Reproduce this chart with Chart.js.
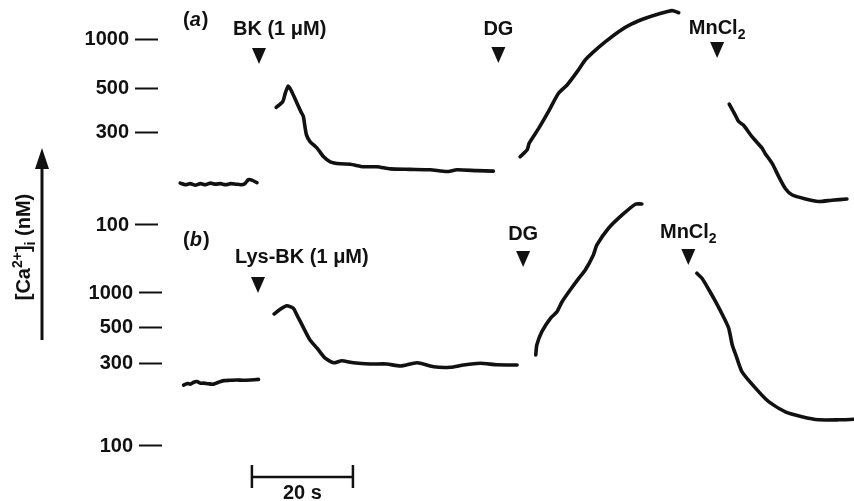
<!DOCTYPE html>
<html>
<head>
<meta charset="utf-8">
<script src="https://cdn.jsdelivr.net/npm/chart.js@4.4.1/dist/chart.umd.min.js"></script>
<style>
  html, body { margin: 0; padding: 0; background: #fff; }
  #wrap { width: 854px; height: 501px; }
</style>
</head>
<body>
<div id="wrap"><canvas id="chart" width="854" height="501"></canvas></div>
<script>
// [Ca2+]i (nM) against time (s); null = pen lifted
const yTicks = [100, 300, 500, 1000];

const timeA = [0, 1, 2, 3, 4, 5, 6, 7, 8, 9, 10, 11, 12, 12.8, 13.5, 14.2, 15.2,
  17,
  19.0, 20.3, 20.8, 21.4, 22.1, 23.0, 23.9, 24.4, 24.6, 25.0, 25.7, 27.1, 28.4, 29.7, 31.7,
  33.7, 36.3, 39.0, 41.6, 45.5, 49.5, 52.8, 54.8, 58.8, 62.0,
  65,
  67.3, 68.7, 69.1, 71.0, 72.9, 74.9, 76.6, 78.6, 80.2, 81.5, 84.2, 86.8, 89.4, 92.1, 94.7, 97.4, 98.7,
  104,
  108.7, 109.9, 110.6, 111.5, 113.2, 115.2, 115.8, 117.2, 118.5, 119.8, 121.1, 123.8, 126.4, 129.0, 132.0];
const caA = [164, 161, 163, 160, 163, 161, 164, 162, 163, 161, 163, 162, 161, 163, 171, 170, 165,
  null,
  402, 430, 475, 522, 484, 430, 382, 360, 333, 290, 268, 248, 224, 211, 206,
  205, 199, 199, 194, 193, 192, 188, 192, 190, 189,
  null,
  224, 243, 263, 314, 382, 475, 529, 639, 754, 828, 976, 1125, 1254, 1359, 1444, 1514, 1471,
  null,
  418, 367, 339, 326, 284, 248, 233, 207, 177, 154, 143, 136, 132, 134, 136];

const timeB = [0.7, 1.4, 2.0, 2.7, 3.3, 4.0, 4.6, 5.6, 6.6, 7.6, 8.6, 9.9, 11.2, 12.5, 13.9, 15.5,
  17,
  18.6, 19.8, 21.1, 22.4, 23.1, 23.8, 24.8, 25.7, 27.1, 28.7, 30.4, 32.0, 34.3, 37.6, 40.9,
  43.6, 46.9, 50.2, 53.5, 56.1, 59.4, 62.7, 66.7,
  68.5,
  70.4, 70.6, 71.6, 73.3, 74.6, 75.6, 77.2, 78.9, 80.2, 81.8, 82.5, 84.8, 87.5, 90.1, 91.4,
  96,
  102.3, 103.3, 104.7, 106.0, 107.7, 108.6, 109.3, 110.0, 111.2, 113.9, 116.5, 119.8, 123.1, 126.4, 130.4, 133.3];
const caB = [226, 231, 229, 235, 237, 232, 232, 230, 229, 235, 240, 241, 242, 241, 242, 244,
  null,
  652, 717, 772, 732, 639, 557, 469, 418, 373, 325, 305, 314, 305, 300, 300,
  292, 305, 289, 287, 296, 303, 297, 296,
  null,
  340, 390, 469, 597, 683, 837, 1063, 1349, 1598, 2170, 2660, 3739, 4903, 6100, 6138,
  null,
  1494, 1349, 1063, 837, 597, 491, 390, 340, 271, 217, 181, 158, 148, 142, 142, 143];

// additions (arrowheads) and their labels
const eventLabelsA = ['BK (1 \u03bcM)', 'DG', 'MnCl_2'];
const eventTimesA = [15.6, 63.0, 106.3];
const eventLabelsB = ['Lys-BK (1 \u03bcM)', 'DG', 'MnCl_2'];
const eventTimesB = [15.4, 67.9, 100.6];

const scaleBarSeconds = 20;

const INK = '#111';
const FONT = "'Liberation Sans', Arial, sans-serif";

// y axis calibrated like the figure: log-interpolated between the labelled ticks
class CalibratedScale extends Chart.LinearScale {
  static id = 'calibrated';
  static defaults = {};
  determineDataLimits() {
    this.min = this.options.min;
    this.max = this.options.max;
  }
  buildTicks() {
    return this.options.tickValues.map(v => ({ value: v }));
  }
  // both panels share the same label column, so do not clip labels to the axis box
  _computeLabelArea() {
    return undefined;
  }
  toUnit(v) {
    const vals = this.options.tickValues, units = this.options.calib;
    if (!(v > 0)) return this.min;
    const lv = Math.log10(v);
    let i = 1;
    while (i < vals.length - 1 && lv > Math.log10(vals[i])) i++;
    const l0 = Math.log10(vals[i - 1]), l1 = Math.log10(vals[i]);
    return units[i - 1] + (lv - l0) * (units[i] - units[i - 1]) / (l1 - l0);
  }
  getPixelForValue(v) {
    if (v === null || v === undefined) return NaN;
    return super.getPixelForValue(this.toUnit(v));
  }
}
Chart.register(CalibratedScale);

function richParts(str) {
  const parts = [];
  const re = /([_^])\{([^}]*)\}|([_^])(.)/g;
  let last = 0, m;
  while ((m = re.exec(str))) {
    if (m.index > last) parts.push({ t: str.slice(last, m.index), shift: 0 });
    const kind = m[1] || m[3];
    parts.push({ t: m[2] !== undefined ? m[2] : m[4], shift: kind === '_' ? 1 : -1 });
    last = re.lastIndex;
  }
  if (last < str.length) parts.push({ t: str.slice(last), shift: 0 });
  return parts;
}

function drawRich(ctx, str, x, y, size, align) {
  const parts = richParts(str);
  const fontFor = p => `bold ${p.shift ? Math.round(size * 0.68) : size}px ${FONT}`;
  let w = 0;
  parts.forEach(p => { ctx.font = fontFor(p); p.w = ctx.measureText(p.t).width; w += p.w; });
  let cx = align === 'center' ? x - w / 2 : align === 'right' ? x - w : x;
  ctx.textAlign = 'left';
  ctx.textBaseline = 'alphabetic';
  parts.forEach(p => {
    ctx.font = fontFor(p);
    const dy = p.shift > 0 ? size * 0.25 : p.shift < 0 ? -size * 0.42 : 0;
    ctx.fillText(p.t, cx, y + dy);
    cx += p.w;
  });
}

function drawLetter(ctx, letter, x, y, size) {
  ctx.textAlign = 'left';
  ctx.textBaseline = 'alphabetic';
  ctx.font = `bold ${size}px ${FONT}`;
  ctx.fillText('(', x, y);
  let cx = x + ctx.measureText('(').width;
  ctx.font = `italic bold ${size}px ${FONT}`;
  ctx.fillText(letter, cx, y);
  cx += ctx.measureText(letter).width + 1;
  ctx.font = `bold ${size}px ${FONT}`;
  ctx.fillText(')', cx, y);
}

const annotations = {
  id: 'annotations',
  afterDraw(chart, args, o) {
    const { ctx, scales: { x } } = chart;
    ctx.save();
    ctx.fillStyle = INK;
    ctx.strokeStyle = INK;

    o.panels.forEach(p => {
      drawLetter(ctx, p.letter, o.letterX, p.letterY, o.fontSize);
      p.times.forEach((t, i) => {
        const px = x.getPixelForValue(t);
        if (i === 0) drawRich(ctx, p.labels[i], px - p.leadOffset, p.labelY[i], o.fontSize, 'left');
        else drawRich(ctx, p.labels[i], px, p.labelY[i], o.fontSize, 'center');
        const top = p.arrowTop[i];
        ctx.beginPath();
        ctx.moveTo(px - 7, top);
        ctx.lineTo(px + 7, top);
        ctx.lineTo(px, top + 16);
        ctx.closePath();
        ctx.fill();
      });
    });

    // 20 s scale bar
    const b = o.bar;
    const x0 = x.getPixelForValue(b.start), x1 = x.getPixelForValue(b.start + scaleBarSeconds);
    ctx.lineWidth = 2.5;
    ctx.beginPath();
    ctx.moveTo(x0, b.y); ctx.lineTo(x1, b.y);
    ctx.moveTo(x0, b.y - 12); ctx.lineTo(x0, b.y + 11);
    ctx.moveTo(x1, b.y - 12); ctx.lineTo(x1, b.y + 11);
    ctx.stroke();
    drawRich(ctx, scaleBarSeconds + ' s', (x0 + x1) / 2, b.labelY, o.fontSize, 'center');

    // y axis title with arrow
    const yt = o.yTitle;
    ctx.lineWidth = 3;
    ctx.beginPath();
    ctx.moveTo(yt.arrowX, yt.arrowBottom);
    ctx.lineTo(yt.arrowX, yt.arrowTip + 18);
    ctx.stroke();
    ctx.beginPath();
    ctx.moveTo(yt.arrowX - 7, yt.arrowTip + 21);
    ctx.lineTo(yt.arrowX + 7, yt.arrowTip + 21);
    ctx.lineTo(yt.arrowX, yt.arrowTip);
    ctx.closePath();
    ctx.fill();
    ctx.save();
    ctx.translate(yt.x, yt.y);
    ctx.rotate(-Math.PI / 2);
    drawRich(ctx, '[Ca^{2+}]_i (nM)', 0, 0, o.fontSize, 'center');
    ctx.restore();

    ctx.restore();
  }
};

function points(times, values) {
  return times.map((t, i) => ({ x: t, y: values[i] }));
}

function yAxis(calib, weight, width) {
  return {
    type: 'calibrated',
    position: 'left',
    weight: weight,
    min: 0,
    max: 100,
    tickValues: yTicks,
    calib: calib,
    afterFit: s => { s.width = width; s.paddingTop = 0; s.paddingBottom = 0; },
    border: { display: false },
    grid: { drawOnChartArea: false, drawTicks: true, tickLength: 23, tickWidth: 2, tickColor: INK },
    ticks: {
      autoSkip: false,
      padding: 6,
      color: INK,
      font: { family: FONT, size: 20, weight: 'bold' },
      callback: v => String(v)
    }
  };
}

const lineStyle = {
  borderColor: INK,
  borderWidth: 3.6,
  pointRadius: 0,
  tension: 0.2,
  spanGaps: false,
  borderCapStyle: 'round',
  borderJoinStyle: 'round',
  fill: false
};

new Chart(document.getElementById('chart'), {
  type: 'line',
  data: {
    datasets: [
      Object.assign({ label: '(a)', data: points(timeA, caA), yAxisID: 'ya' }, lineStyle),
      Object.assign({ label: '(b)', data: points(timeB, caB), yAxisID: 'yb' }, lineStyle)
    ]
  },
  options: {
    responsive: false,
    animation: false,
    events: [],
    layout: { padding: 0, autoPadding: false },
    scales: {
      x: { type: 'linear', display: false, min: -3.6, max: 133.4 },
      ya: yAxis([55.09, 73.65, 82.24, 92.02], 1, 158),
      yb: yAxis([10.98, 27.35, 34.73, 41.52], 0, 4)
    },
    plugins: {
      legend: { display: false },
      tooltip: { enabled: false },
      annotations: {
        fontSize: 20,
        letterX: 183,
        panels: [
          { letter: 'a', letterY: 26, labels: eventLabelsA, times: eventTimesA,
            leadOffset: 26, labelY: [35, 35, 34], arrowTop: [48, 47, 42] },
          { letter: 'b', letterY: 246, labels: eventLabelsB, times: eventTimesB,
            leadOffset: 23, labelY: [263, 240, 238], arrowTop: [277, 251, 249] }
        ],
        bar: { start: 14.2, y: 477, labelY: 499 },
        yTitle: { x: 30, y: 247, arrowX: 42, arrowTip: 148, arrowBottom: 340 }
      }
    }
  },
  plugins: [annotations]
});
</script>
</body>
</html>
